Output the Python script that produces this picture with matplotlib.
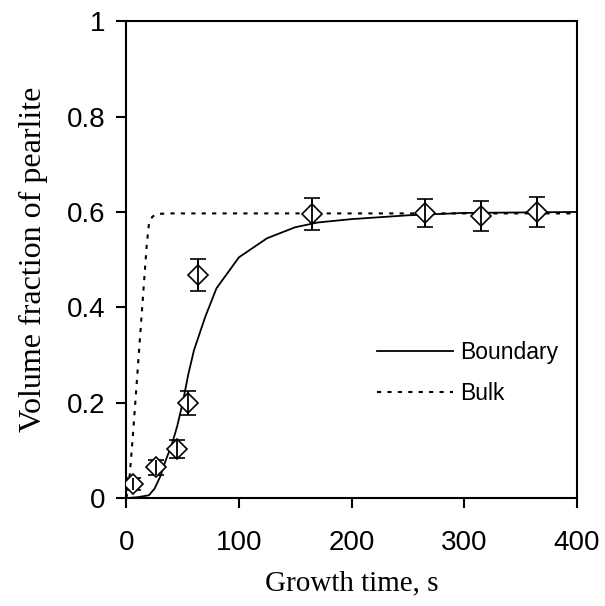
import matplotlib.pyplot as plt
import numpy as np

# measured points with error bars
t_exp = [6, 26, 45, 55, 64, 165, 265, 315, 365]
f_exp = [0.030, 0.065, 0.103, 0.200, 0.468, 0.596, 0.598, 0.592, 0.600]
f_err = [0.013, 0.016, 0.018, 0.025, 0.033, 0.033, 0.030, 0.032, 0.032]

# model curves
t_boundary = [0, 10, 20, 25, 30, 35, 40, 45, 50, 55, 60, 70, 80, 100, 125, 150, 170, 200, 250, 300, 400]
f_boundary = [0.0, 0.002, 0.006, 0.02, 0.045, 0.08, 0.11, 0.15, 0.20, 0.26, 0.31, 0.38, 0.44, 0.505, 0.545, 0.568, 0.578, 0.585, 0.593, 0.598, 0.600]
t_bulk = [0, 3, 6, 10, 14, 18, 20, 23, 27, 40, 400]
f_bulk = [0.0, 0.05, 0.14, 0.27, 0.40, 0.53, 0.575, 0.59, 0.596, 0.597, 0.597]

fig = plt.figure(figsize=(6.05, 6.06), dpi=100)
ax = fig.add_axes([0.209, 0.178, 0.744, 0.787])

ax.plot(t_boundary, f_boundary, color='black', lw=1.3, label='Boundary')
ax.plot(t_bulk, f_bulk, color='black', lw=1.5, dashes=(2, 3), label='Bulk')
ax.errorbar(t_exp, f_exp, yerr=f_err, fmt='D', mfc='white', mec='black', mew=1.2,
            ms=10, ecolor='black', elinewidth=1.3, capsize=5.5, capthick=1.3, zorder=3)
# error line visible through the open diamond
ax.errorbar(t_exp, f_exp, yerr=f_err, fmt='none', ecolor='black', elinewidth=1.3, zorder=4)

ax.set_xlim(0, 400)
ax.set_ylim(0, 1)
ax.set_xticks([0, 100, 200, 300, 400])
ax.set_yticks([0, 0.2, 0.4, 0.6, 0.8, 1])
ax.set_yticklabels(['0', '0.2', '0.4', '0.6', '0.8', '1'])

for s in ax.spines.values():
    s.set_linewidth(1.5)
ax.tick_params(direction='out', length=7, width=1.5, labelsize=20, pad=8)
for lab in ax.get_xticklabels() + ax.get_yticklabels():
    lab.set_family('Liberation Sans')
ax.tick_params(axis='x', pad=16)

ax.set_xlabel('Growth time, s', family='Liberation Serif', fontsize=21, labelpad=10)
ax.set_ylabel('Volume fraction of pearlite', family='Liberation Serif', fontsize=23, labelpad=14)

ax.legend(loc='upper left', bbox_to_anchor=(0.557, 0.33), frameon=False,
          prop={'family': 'Liberation Sans', 'size': 16.5}, handlelength=3.3,
          handletextpad=0.3, labelspacing=0.8, borderpad=0, borderaxespad=0)

fig.savefig('out.png', dpi=100)
